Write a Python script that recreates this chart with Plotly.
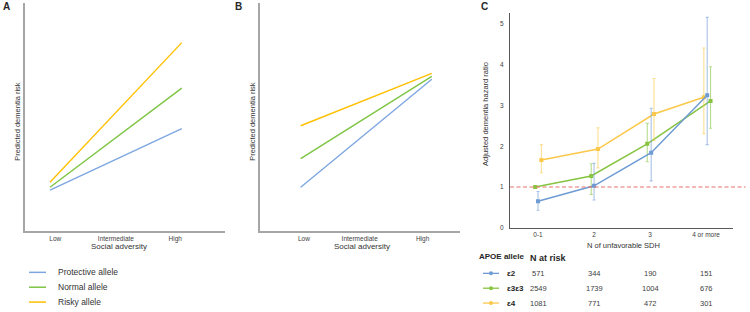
import plotly.graph_objects as go

FONT = "Liberation Sans, Arial, sans-serif"

# ---------------- Data ----------------
adv_levels = ["Low", "Intermediate", "High"]
adv_x = [0, 2]  # Low and High endpoints
# Panel A (predicted risk, arbitrary units 0-10)
A_protective = [1.78, 4.48]
A_normal = [1.91, 6.26]
A_risky = [2.13, 8.26]
# Panel B
B_protective = [1.91, 6.65]
B_normal = [3.17, 6.78]
B_risky = [4.61, 6.91]

sdh_cats = ["0-1", "2", "3", "4 or more"]
hr_e2 = [0.65, 1.03, 1.84, 3.25]
lo_e2 = [0.43, 0.68, 1.15, 2.04]
hi_e2 = [0.89, 1.58, 2.93, 5.16]
hr_e33 = [1.00, 1.27, 2.06, 3.11]
lo_e33 = [1.00, 0.82, 1.62, 2.44]
hi_e33 = [1.00, 1.57, 2.56, 3.95]
hr_e4 = [1.66, 1.93, 2.79, 3.20]
lo_e4 = [1.35, 1.47, 2.14, 2.31]
hi_e4 = [2.04, 2.45, 3.66, 4.41]

n_e2 = [571, 344, 190, 151]
n_e33 = [2549, 1739, 1004, 676]
n_e4 = [1081, 771, 472, 301]

allele_labels = ["ε2", "ε3ε3", "ε4"]
legend_labels = ["Protective allele", "Normal allele", "Risky allele"]

# ---------------- Style ----------------
c_blue, c_green, c_orange = "#7EA6E0", "#7DC443", "#FFC000"
cC_blue, cC_green, cC_orange = "#6E9BD3", "#86C441", "#FCC84B"
err_blue, err_green, err_orange = "rgba(110,155,211,0.6)", "rgba(134,196,65,0.6)", "rgba(252,200,75,0.6)"
off_blue = [0.0, 0.0, 0.02, 0.02]
off_green = [-0.05, -0.05, -0.05, 0.08]
off_orange = [0.06, 0.07, 0.07, -0.04]

fig = go.Figure()

def add_lines(vals, color, xa, ya):
    fig.add_trace(go.Scatter(x=adv_x, y=vals, mode="lines", line=dict(color=color, width=1.4),
                             xaxis=xa, yaxis=ya, showlegend=False, hoverinfo="skip"))

for vals, col in [(A_protective, c_blue), (A_normal, c_green), (A_risky, c_orange)]:
    add_lines(vals, col, "x", "y")
for vals, col in [(B_protective, c_blue), (B_normal, c_green), (B_risky, c_orange)]:
    add_lines(vals, col, "x2", "y2")

def add_hr(hr, lo, hi, off, col, ecol, name):
    xs = [i + o for i, o in enumerate(off)]
    fig.add_trace(go.Scatter(
        x=xs, y=hr, mode="lines+markers", name=name,
        line=dict(color=col, width=1.5), marker=dict(color=col, size=4, symbol="square"),
        error_y=dict(type="data", symmetric=False,
                     array=[h - v for h, v in zip(hi, hr)],
                     arrayminus=[v - l for v, l in zip(hr, lo)],
                     color=ecol, thickness=1.1, width=1.5),
        xaxis="x3", yaxis="y3", showlegend=False, hoverinfo="skip"))

add_hr(hr_e33, lo_e33, hi_e33, off_green, cC_green, err_green, "ε3ε3")
add_hr(hr_e4, lo_e4, hi_e4, off_orange, cC_orange, err_orange, "ε4")
add_hr(hr_e2, lo_e2, hi_e2, off_blue, cC_blue, err_blue, "ε2")

ab_axis = dict(showgrid=False, zeroline=False, showline=True, linecolor="#A6A6A6", linewidth=2,
               ticks="", tickfont=dict(family=FONT, size=6.5, color="#404040"))

fig.update_layout(
    width=750, height=312, margin=dict(l=0, r=0, t=0, b=0),
    paper_bgcolor="white", plot_bgcolor="white",
    font=dict(family=FONT, color="#404040"),
    xaxis=dict(domain=[0.0333, 0.30], range=[-0.38, 2.656], tickvals=[0.08, 1, 1.9], ticktext=adv_levels,
               anchor="y", **ab_axis),
    yaxis=dict(domain=[0.2532, 0.9904], range=[0, 10], showticklabels=False, anchor="x",
               **{k: v for k, v in ab_axis.items() if k != "tickfont"}),
    xaxis2=dict(domain=[0.3467, 0.6133], range=[-0.62, 2.43], tickvals=[0.05, 0.9, 1.86], ticktext=adv_levels,
                anchor="y2", **ab_axis),
    yaxis2=dict(domain=[0.2532, 0.9904], range=[0, 10], showticklabels=False, anchor="x2",
                **{k: v for k, v in ab_axis.items() if k != "tickfont"}),
    xaxis3=dict(domain=[0.68, 0.9773], range=[-0.5, 3.48], tickvals=list(range(4)), ticktext=sdh_cats,
                showgrid=False, zeroline=False, showline=True, linecolor="#595959", linewidth=1,
                ticks="", tickfont=dict(family=FONT, size=6.5, color="#404040"), anchor="y3"),
    yaxis3=dict(domain=[0.2628, 0.9583], range=[0, 5.27], tickvals=[0, 1, 2, 3, 4, 5],
                showgrid=False, zeroline=False, showline=True, linecolor="#595959", linewidth=1,
                ticks="", ticklabelstandoff=4,
                tickfont=dict(family=FONT, size=6.5, color="#404040"), anchor="x3"),
)

# reference line at HR = 1
fig.add_shape(type="line", xref="paper", yref="y3", x0=0.68, x1=0.994, y0=1, y1=1,
              line=dict(color="#E8706A", width=1.2, dash="4px,2.5px"))

ann = []
def txt(x, y, t, size, bold=False, xanchor="center", xref="paper", angle=0, color="#262626"):
    ann.append(dict(x=x, y=y, xref=xref, yref="paper", text=("<b>%s</b>" % t) if bold else t,
                    showarrow=False, xanchor=xanchor, yanchor="middle", textangle=angle,
                    font=dict(family=FONT, size=size, color=color)))

W, H = 750.0, 312.0
px = lambda v: v / W
py = lambda v: 1 - v / H

# panel letters
txt(px(6), py(7), "A", 10, bold=True)
txt(px(238), py(7), "B", 10, bold=True)
txt(px(484), py(7), "C", 10, bold=True)

# axis titles
txt(px(119), py(249), "Social adversity", 8, color="#333333")
txt(px(362), py(249), "Social adversity", 8, color="#333333")
txt(px(623), py(248), "N of unfavorable SDH", 7.5, color="#333333")
txt(px(18), py(123), "Predicted dementia risk", 7.5, angle=-90, color="#333333")
txt(px(253), py(123), "Predicted dementia risk", 7.5, angle=-90, color="#333333")
txt(px(486), py(115), "Adjusted dementia hazard ratio", 7.5, angle=-90, color="#333333")

# Legend for A/B
leg_y = [275, 290, 305]
for yy, lab, col in zip(leg_y, legend_labels, [c_blue, c_green, c_orange]):
    fig.add_shape(type="line", xref="paper", yref="paper", x0=px(29), x1=px(46), y0=py(yy), y1=py(yy),
                  line=dict(color=col, width=1.5))
    txt(px(56), py(yy), lab, 8.5, xanchor="left", color="#333333")

# Table for C
txt(px(477), py(259), "APOE allele", 8, bold=True, xanchor="left")
txt(px(528), py(261), "N at risk", 9, bold=True, xanchor="left")
row_y = [276, 291, 306]
for yy, lab, col, ns in zip(row_y, allele_labels, [cC_blue, cC_green, cC_orange], [n_e2, n_e33, n_e4]):
    fig.add_shape(type="line", xref="paper", yref="paper", x0=px(483), x1=px(499), y0=py(yy), y1=py(yy),
                  line=dict(color=col, width=1.3))
    fig.add_shape(type="circle", xref="paper", yref="paper", x0=px(489), x1=px(493), y0=py(yy + 2), y1=py(yy - 2),
                  line=dict(color=col, width=0), fillcolor=col)
    txt(px(505), py(yy), lab, 8, bold=True, xanchor="left")
    for i, n in enumerate(ns):
        ann.append(dict(x=i, y=py(yy), xref="x3", yref="paper", text=str(n), showarrow=False,
                        xanchor="center", yanchor="middle", font=dict(family=FONT, size=7.5, color="#404040")))

fig.update_layout(annotations=ann)
fig.write_html("out.html")
